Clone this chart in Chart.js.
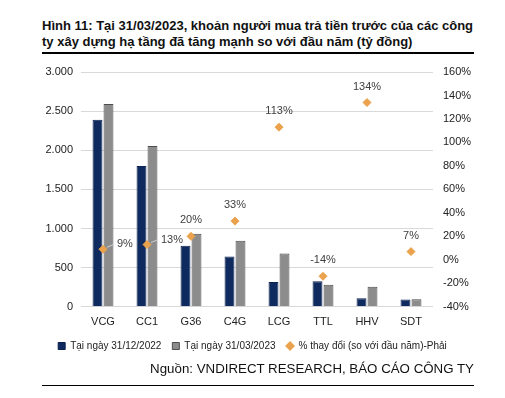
<!DOCTYPE html>
<html>
<head>
<meta charset="utf-8">
<script src="https://cdn.jsdelivr.net/npm/chart.js@4"></script>
<style>
  body { margin: 0; background: #fff; font-family: "Liberation Sans", Arial, sans-serif; }
  #wrap { position: relative; width: 505px; height: 398px; }
  #title { position: absolute; left: 42px; top: 18px; width: 440px; font-size: 13px; font-weight: bold; line-height: 16px; color: #111; }
  #titleLine { position: absolute; left: 42px; top: 52px; width: 432px; height: 2px; background: #000; }
  #chartBox { position: absolute; left: 0; top: 55px; width: 505px; height: 308px; }
  #source { position: absolute; right: 31px; top: 361px; font-size: 13.3px; color: #111; }
  #bottomLine { position: absolute; left: 42px; top: 385px; width: 432px; height: 1px; background: #000; }
</style>
</head>
<body>
<div id="wrap">
  <div id="title">Hình 11: Tại 31/03/2023, khoản người mua trả tiền trước của các công ty xây dựng hạ tầng đã tăng mạnh so với đầu năm (tỷ đồng)</div>
  <div id="titleLine"></div>
  <div id="chartBox"><canvas id="chart" width="505" height="308"></canvas></div>
  <div id="source">Nguồn: VNDIRECT RESEARCH, BÁO CÁO CÔNG TY</div>
  <div id="bottomLine"></div>
</div>
<script>
const companies = ['VCG', 'CC1', 'G36', 'C4G', 'LCG', 'TTL', 'HHV', 'SDT'];
const advances2022 = [2390, 1800, 780, 643, 318, 326, 110, 92];
const advances2023 = [2590, 2053, 934, 844, 681, 282, 257, 97];
const changePct = [9, 13, 20, 33, 113, -14, 134, 7];
const seriesNames = ['Tại ngày 31/12/2022', 'Tại ngày 31/03/2023', '% thay đổi (so với đầu năm)-Phải'];
const legendStyles = ['rect', 'rect', 'rectRot'];

const tickFont = { family: 'Liberation Sans', size: 11 };

// labels for the % points: most sit above, first two sit to the right with a leader line
const pctLabels = {
  id: 'pctLabels',
  afterDatasetsDraw(chart) {
    const ctx = chart.ctx;
    const meta = chart.getDatasetMeta(2);
    ctx.save();
    ctx.font = '11px "Liberation Sans"';
    ctx.fillStyle = '#404040';
    ctx.textBaseline = 'middle';
    meta.data.forEach((pt, i) => {
      const text = changePct[i] + '%';
      if (i < 2) {
        ctx.strokeStyle = '#d0d0d0';
        ctx.lineWidth = 1;
        ctx.beginPath();
        ctx.moveTo(pt.x + 4, pt.y - 2);
        ctx.lineTo(pt.x + 11, pt.y - 5);
        ctx.stroke();
        ctx.textAlign = 'left';
        ctx.fillText(text, pt.x + 14, pt.y - 5);
      } else {
        ctx.textAlign = 'center';
        ctx.fillText(text, pt.x, pt.y - 16);
      }
    });
    ctx.restore();
  }
};

new Chart(document.getElementById('chart'), {
  data: {
    labels: companies,
    datasets: [
      {
        type: 'bar', label: seriesNames[0], data: advances2022,
        backgroundColor: '#0f2a5e', borderColor: '#0b2150', borderWidth: 1,
        categoryPercentage: 0.5, barPercentage: 0.9, yAxisID: 'y', order: 2
      },
      {
        type: 'bar', label: seriesNames[1], data: advances2023,
        backgroundColor: '#8c8c8c', borderColor: '#4d4d4d', borderWidth: 1,
        categoryPercentage: 0.5, barPercentage: 0.9, yAxisID: 'y', order: 2
      },
      {
        type: 'line', label: seriesNames[2], data: changePct,
        showLine: false, pointStyle: 'rectRot', pointRadius: 4,
        pointBackgroundColor: '#eaa24c', pointBorderColor: '#eaa24c',
        backgroundColor: '#eaa24c', borderColor: '#eaa24c',
        yAxisID: 'y1', order: 1
      }
    ]
  },
  options: {
    responsive: false,
    animation: false,
    layout: { padding: { top: 17, bottom: 2 } },
    plugins: {
      legend: {
        position: 'bottom',
        labels: {
          usePointStyle: true,
          boxWidth: 7, boxHeight: 7,
          padding: 11,
          color: '#222',
          font: { family: 'Liberation Sans', size: 10 },
          generateLabels(chart) {
            const items = Chart.defaults.plugins.legend.labels.generateLabels(chart);
            items.sort((a, b) => a.datasetIndex - b.datasetIndex);
            items.forEach((it, i) => {
              it.pointStyle = legendStyles[i];
              it.lineWidth = i === 2 ? 0 : 1;
            });
            return items;
          }
        }
      },
      tooltip: { enabled: false }
    },
    scales: {
      x: {
        grid: { display: false },
        border: { display: false },
        ticks: { color: '#222', font: tickFont, padding: 1 }
      },
      y: {
        position: 'left', min: 0, max: 3000,
        ticks: {
          stepSize: 500, color: '#222', font: tickFont, padding: 8,
          callback: v => v.toLocaleString('de-DE')
        },
        grid: { color: '#d9d9d9', drawTicks: false },
        border: { display: false },
        afterFit: scale => { scale.width = 81; }
      },
      y1: {
        position: 'right', min: -40, max: 160,
        ticks: { stepSize: 20, color: '#222', font: tickFont, padding: 10, callback: v => v + '%' },
        grid: { display: false, drawTicks: false },
        border: { display: false },
        afterFit: scale => { scale.width = 72; }
      }
    }
  },
  plugins: [pctLabels]
});
</script>
</body>
</html>
